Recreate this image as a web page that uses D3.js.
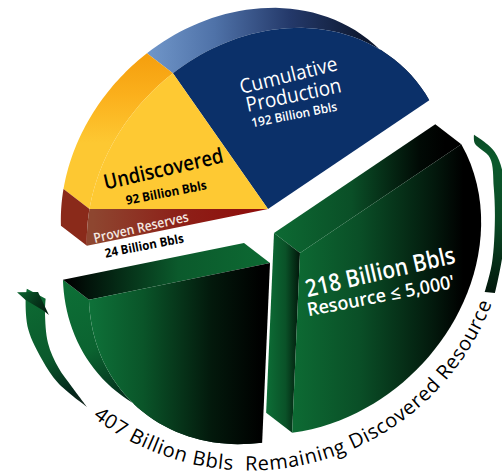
<!DOCTYPE html>
<html><head><meta charset="utf-8">
<script src="https://cdn.jsdelivr.net/npm/d3@7/dist/d3.min.js"></script>
<style>html,body{margin:0;background:#fff;overflow:hidden}svg{display:block}text{font-family:"Open Sans",sans-serif}</style>
</head><body><svg id="c" width="502" height="474"></svg>
<script>
// Data, clockwise from the Cumulative Production slice
const sliceNames = ["Cumulative Production","Resource ≤ 5,000'","Remaining > 5,000'","Proven Reserves","Undiscovered"];
const sliceValues = [192,218,189,24,92];

const svg = d3.select("#c"), defs = svg.append("defs");
const cum = d3.cumsum(sliceValues);
// the picture is an oblique view: value → screen angle in the tilted pie
const angle = d3.scaleLinear().domain([0,...cum]).range([-125,-34,92.5,168.5,180,235]);
const rad = d => d*Math.PI/180;
const A=196,B=165,ROT=rad(-45);
const rim = t => { const d=rad(t)-ROT; return 1/Math.sqrt((Math.cos(d)/A)**2+(Math.sin(d)/B)**2); };
const apexes=[[268,209],[300,253],[270,263],[268,209],[268,209]];
const depth=[-26,-20];
const line=d3.line();
const rimPts=(i,t0,t1,sh=[0,0])=>d3.range(0,41).map(k=>{const t=t0+(t1-t0)*k/40;const r=rim(t);
  return [apexes[i][0]+r*Math.cos(rad(t))+sh[0],apexes[i][1]+r*Math.sin(rad(t))+sh[1]];});
function grad(id,x1,y1,x2,y2,stops){const g=defs.append("linearGradient").attr("id",id).attr("gradientUnits","userSpaceOnUse")
  .attr("x1",x1).attr("y1",y1).attr("x2",x2).attr("y2",y2);
  stops.forEach(s=>g.append("stop").attr("offset",s[0]).attr("stop-color",s[1]));return `url(#${id})`;}
const shape=(pts,fill)=>svg.append("path").attr("d",line(pts)+"Z").attr("fill",fill);
const shift=(p)=>[p[0]+depth[0],p[1]+depth[1]];

const bounds=sliceValues.map((v,i)=>[angle(i?cum[i-1]:0),angle(cum[i])]);

// rim walls
const rimWall=(i,fill)=>{const [a,b]=bounds[i];const f=rimPts(i,a,b),s=rimPts(i,a,b,depth);shape(f.concat(s.reverse()),fill);};
const radialWall=(i,t,fill)=>{const ap=apexes[i];const e=rimPts(i,t,t)[0];shape([ap,e,shift(e),shift(ap)],fill);};
const face=(i,fill)=>{const [a,b]=bounds[i];shape([apexes[i],...rimPts(i,a,b)],fill);};

// top half
rimWall(0,grad("bw",150,0,365,0,[[0,"#6f95c8"],[.3,"#4f72a8"],[.65,"#24396a"],[1,"#0d1830"]]));
rimWall(4,grad("yw",0,55,0,190,[[0,"#f59f0e"],[.3,"#fbb01c"],[.65,"#fdc832"],[1,"#fdc832"]]));
rimWall(3,"#8a2a1a");
face(0,"#0b3069");
face(4,"#fec933");
face(3,grad("rf",93,0,268,0,[[0,"#8e4630"],[.5,"#8d2018"],[1,"#8f0c0a"]]));

// left green
rimWall(2,grad("gs",60,280,130,400,[[0,"#0d7037"],[.55,"#0b6330"],[1,"#03291a"]]));
radialWall(2,bounds[2][1],grad("gt",66,0,270,0,[[0,"#000"],[.12,"#02150b"],[.55,"#0b5a2c"],[1,"#0d6a33"]]));
face(2,grad("gf",92,0,262,0,[[0,"#0e7038"],[.3,"#0a5529"],[.7,"#03190c"],[1,"#000"]]));

// right green
radialWall(1,bounds[1][0],grad("rt",275,0,445,0,[[0,"#0d6a33"],[.45,"#0a4f27"],[.85,"#010a05"],[1,"#000"]]));
radialWall(1,bounds[1][1],grad("rs",265,0,299,0,[[0,"#0d7037"],[.6,"#0a5228"],[1,"#021a0c"]]));
face(1,grad("rf2",295,0,478,0,[[0,"#0d6a33"],[.35,"#0a4f27"],[.75,"#031a0d"],[.92,"#000"],[1,"#000"]]));

// bracket arrows around the 407 total, on a circle round the pie
const C=[250,212],R=258.5;
const pol=(t,r)=>[C[0]+r*Math.cos(rad(t)),C[1]+r*Math.sin(rad(t))];
const curve=d3.line().curve(d3.curveCatmullRom.alpha(.5));
const crescent=(outer,inner,fill)=>{
  const o=outer.map(d=>pol(d[0],d[1])),n=inner.map(d=>pol(d[0],d[1]));
  svg.append("path").attr("d",curve(o)+"L"+curve(n.slice().reverse()).slice(1)+"Z").attr("fill",fill);
};
const lg=grad("la",25,300,86,407,[[0,"#0d6a33"],[.5,"#0b5a2c"],[.85,"#03241a"],[1,"#1a2a22"]]);
crescent([[129.9,254],[138.3,257],[144.6,255],[152,251],[158.6,241],[161,236]],
         [[129.9,254],[135.5,249.6],[141,246.8],[147,240.8],[153.8,228.5],[157,222]],lg);
shape([pol(161,246.4),pol(159.3,226.6),pol(152.9,225.9),pol(154.5,229),pol(158.6,241)],
      grad("lh",17,292,49,316,[[0,"#0b6630"],[.5,"#06381c"],[1,"#02170c"]]));
const rg=grad("ra",490,135,490,293,[[0,"#0a4a25"],[.15,"#0b5a2c"],[.55,"#0a4a25"],[1,"#02170c"]]);
crescent([[-19,236.9],[-13.8,252],[-7.2,256],[7.9,256],[18.3,258]],
         [[-19,236.9],[-17,235],[-12.7,246],[-5.8,245],[1.9,245],[11.9,247.3],[18.8,248]],rg);

// curved caption
defs.append("path").attr("id","arc").attr("d",line(d3.range(0,61).map(k=>pol(127.5-k*108.5/60,R))));
svg.append("text").attr("font-size",20).attr("fill","#000")
  .append("textPath").attr("href","#arc").attr("textLength",482).attr("lengthAdjust","spacing")
  .text("407 Billion Bbls\u00a0\u00a0Remaining Discovered Resource");

// labels
const labels=[
 ["Cumulative",290,82,-14,20,400,"#fff",100],
 ["Production",295,102,-12,20.5,400,"#fff",97],
 ["192 Billion Bbls",295,119,-11,12.5,600,"#fff",87],
 ["Undiscovered",165,176,-13,21,600,"#000",122],
 ["92 Billion Bbls",167,197,-11,12.5,700,"#000",82],
 ["Proven Reserves",142,232,-13,13.5,600,"#f4e9e2",97],
 ["24 Billion Bbls",145,250,-11,12.5,700,"#000",80],
 ["218 Billion Bbls",382,280,-13,24,600,"#fff",153],
 ["Resource ≤ 5,000'",382,302,-11,18.5,600,"#fff",150]];
svg.selectAll("text.l").data(labels).join("text").attr("class","l")
 .attr("text-anchor","middle").attr("transform",d=>`translate(${d[1]},${d[2]}) rotate(${d[3]})`)
 .attr("font-size",d=>d[4]).attr("font-weight",d=>d[5]).attr("fill",d=>d[6])
 .attr("textLength",d=>d[7]).attr("lengthAdjust","spacingAndGlyphs").text(d=>d[0]);
</script></body></html>
